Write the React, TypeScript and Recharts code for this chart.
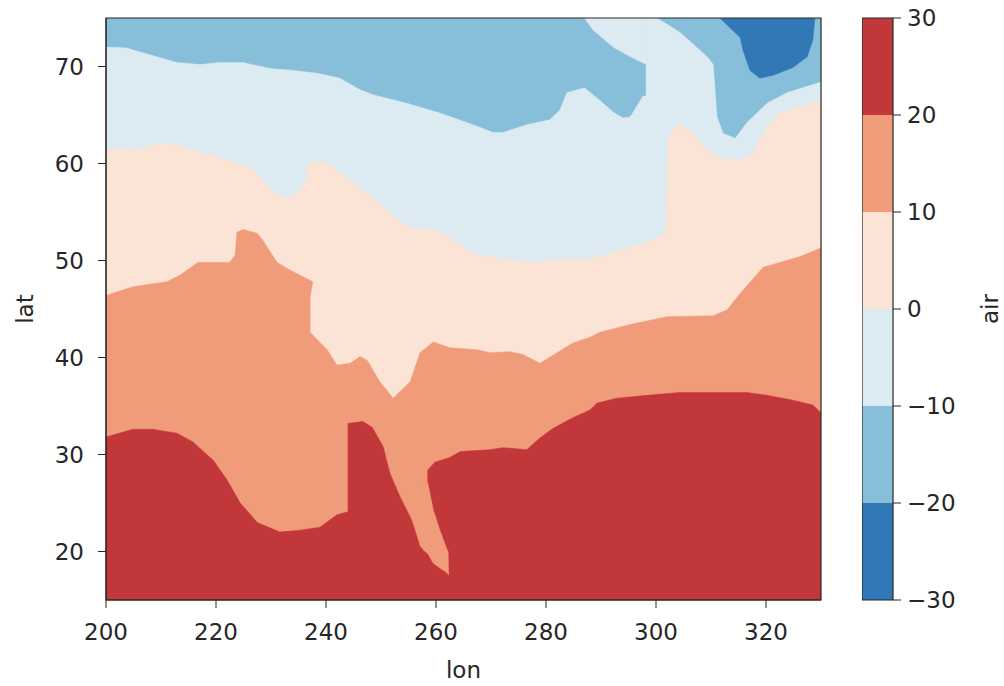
import { ComposedChart, Area, XAxis, YAxis, ReferenceArea } from 'recharts';

const LON_TICKS = [200, 220, 240, 260, 280, 300, 320];
const LAT_TICKS = [20, 30, 40, 50, 60, 70];
const LEVELS = [-30, -20, -10, 0, 10, 20, 30];
const COLORS = ['#3079b6', '#87beda', '#dcebf2', '#fbe3d5', '#f09b7a', '#c1373a'];
const LAT_MIN = 15;
const LAT_MAX = 75;

// contour edges, [lon, lat]
const fullField = [[200, 75], [330, 75]];

const minus10Top = [
  [200, 72.0], [203.8, 71.9], [206.2, 71.5], [211.1, 70.7], [212.9, 70.4], [217.1, 70.2],
  [220.7, 70.4], [224.9, 70.4], [229.8, 69.8], [234.0, 69.6], [238.4, 69.3], [242.5, 68.8],
  [246.2, 67.6], [248.5, 67.1], [254.7, 66.2], [260.7, 65.2], [266.7, 64.0], [270.4, 63.2],
  [272.2, 63.2], [276.5, 64.0], [280.7, 64.5], [282.5, 65.5], [283.8, 67.3], [287.0, 67.8],
  [289.8, 66.5], [292.2, 65.3], [294.0, 64.7], [295.3, 64.8], [297.6, 66.9], [298.2, 67.0],
  [298.2, 75], [300.2, 75], [304.4, 73.5], [309.3, 71.0], [310.4, 70.2], [311.1, 64.8],
  [312.2, 63.1], [314.4, 62.6], [316.5, 64.2], [320.2, 66.2], [323.8, 67.3], [330, 68.4],
];

// light blue wedge touching the top edge, lower edge
const wedgeBottom = [[287.0, 75], [288.5, 73.8], [292.2, 72.0], [294.7, 71.2], [298.2, 70.2]];

// dark blue cell, lower edge
const minus20Bottom = [
  [311.6, 75], [315.3, 73.0], [315.8, 71.7], [317.1, 69.6], [318.9, 68.8], [321.3, 69.1],
  [324.9, 69.9], [327.5, 71.0], [328.5, 72.7], [328.9, 75],
];

const zeroTop = [
  [200, 61.6], [204.9, 61.4], [209.8, 62.1], [213.5, 61.8], [217.1, 61.2], [223.1, 60.2],
  [226.2, 59.6], [228.5, 58.3], [230.4, 57.1], [232.9, 56.4], [235.3, 57.3], [236.5, 58.3],
  [236.7, 60.1], [240.2, 60.1], [244.4, 58.3], [251.1, 55.2], [254.7, 53.5], [260.2, 53.1],
  [262.5, 52.4], [265.6, 51.1], [267.5, 50.6], [272.9, 50.1], [277.6, 49.8], [282.0, 50.1],
  [288.0, 50.1], [289.8, 50.4], [295.3, 51.4], [300.7, 52.4], [301.6, 52.9], [302.0, 56.2],
  [302.2, 62.7], [304.4, 64.2], [306.7, 63.1], [309.3, 61.4], [311.6, 60.6], [314.7, 60.4],
  [317.1, 60.7], [320.2, 63.8], [322.5, 65.2], [325.6, 65.7], [330, 66.5],
];

const tenTop = [
  [200, 46.4], [204.9, 47.3], [211.1, 47.8], [213.5, 48.5], [216.7, 49.8], [222.5, 49.8],
  [223.5, 50.6], [223.8, 52.9], [224.9, 53.2], [227.5, 52.8], [228.5, 52.1], [231.1, 49.8],
  [233.5, 49.0], [237.6, 47.8], [237.1, 46.2], [237.1, 42.6], [240.2, 40.8], [242.0, 39.2],
  [244.4, 39.4], [246.2, 40.1], [247.5, 39.7], [249.8, 37.5], [252.2, 35.8], [255.3, 37.5],
  [257.1, 40.5], [259.5, 41.6], [262.5, 41.0], [267.5, 40.8], [269.8, 40.5], [273.5, 40.6],
  [275.8, 40.3], [278.9, 39.4], [282.0, 40.5], [284.9, 41.5], [288.0, 42.1], [289.8, 42.6],
  [295.3, 43.4], [302.0, 44.2], [310.4, 44.3], [312.9, 44.9], [315.3, 46.6], [319.5, 49.3],
  [322.5, 49.8], [326.2, 50.4], [330, 51.3],
];

const twentyTop = [
  [200, 31.8], [204.9, 32.6], [208.5, 32.6], [212.9, 32.2], [215.8, 31.3], [219.5, 29.4],
  [222.0, 27.4], [224.4, 25.0], [227.5, 23.0], [231.6, 22.0], [235.3, 22.2], [238.9, 22.5],
  [242.0, 23.8], [244.0, 24.1], [244.0, 33.2], [246.7, 33.4], [248.4, 32.8], [250.4, 30.8],
  [251.6, 28.1], [253.5, 25.6], [255.6, 23.2], [257.1, 20.5], [258.5, 19.8], [258.5, 28.4],
  [259.8, 29.2], [262.5, 29.7], [264.4, 30.3], [269.8, 30.5], [272.2, 30.7], [276.5, 30.5],
  [278.9, 31.7], [281.3, 32.7], [284.9, 33.8], [288.0, 34.6], [289.3, 35.3], [292.9, 35.8],
  [298.4, 36.1], [304.4, 36.4], [316.5, 36.4], [320.2, 36.1], [324.9, 35.6], [328.5, 35.1],
  [330, 34.3],
];

// orange tongue cutting into the red, [lon, low, high]
const tongue = [
  [257.6, 20.2, 27.1], [258.5, 19.8, 27.1], [259.5, 18.8, 24.3], [260.7, 18.3, 22.2],
  [262.0, 17.8, 20.2], [262.2, 17.6, 20.0], [262.3, 17.6, 17.6],
];

const fromBottom = (pts: number[][]) => pts.map(([lon, lat]) => ({ lon, v: [LAT_MIN, lat] }));
const toTop = (pts: number[][]) => pts.map(([lon, lat]) => ({ lon, v: [lat, LAT_MAX] }));
const between = (pts: number[][]) => pts.map(([lon, lo, hi]) => ({ lon, v: [lo, hi] }));

const layers = [
  { data: fromBottom(fullField), color: COLORS[1] },
  { data: fromBottom(minus10Top), color: COLORS[2] },
  { data: toTop(wedgeBottom), color: COLORS[2] },
  { data: toTop(minus20Bottom), color: COLORS[0] },
  { data: fromBottom(zeroTop), color: COLORS[3] },
  { data: fromBottom(tenTop), color: COLORS[4] },
  { data: fromBottom(twentyTop), color: COLORS[5] },
  { data: between(tongue), color: COLORS[4] },
];

const cbarData = [0, 1].map((x) => {
  const row: Record<string, any> = { x };
  COLORS.forEach((_, i) => {
    row['b' + i] = [LEVELS[i], LEVELS[i + 1]];
  });
  return row;
});

const INK = '#262626';
const FONT = 'DejaVu Sans';
const tickStyle = { fill: INK, fontSize: 23, fontFamily: FONT };
const fmt = (v: number) => (v < 0 ? `\u2212${-v}` : `${v}`);

export default function App() {
  return (
    <div style={{ position: 'absolute', left: 0, top: 0, width: 1004, height: 686, background: '#fff' }}>
      <div style={{ position: 'absolute', left: 0, top: 0 }}>
        <ComposedChart width={840} height={686} margin={{ top: 18, right: 19, bottom: 0, left: 0 }}>
          <XAxis
            type="number"
            dataKey="lon"
            domain={[200, 330]}
            ticks={LON_TICKS}
            allowDataOverflow
            height={86}
            tick={tickStyle}
            tickSize={8}
            tickMargin={16}
            tickLine={{ stroke: INK }}
            axisLine={{ stroke: INK }}
            label={{ value: 'lon', position: 'insideBottom', offset: 8, fill: INK, fontSize: 23, fontFamily: FONT }}
          />
          <YAxis
            type="number"
            domain={[LAT_MIN, LAT_MAX]}
            ticks={LAT_TICKS}
            allowDataOverflow
            width={106}
            tick={tickStyle}
            tickSize={8}
            tickMargin={14}
            tickLine={{ stroke: INK }}
            axisLine={{ stroke: INK }}
            label={{
              value: 'lat',
              angle: -90,
              position: 'insideLeft',
              offset: 25,
              fill: INK,
              fontSize: 23,
              fontFamily: FONT,
              style: { textAnchor: 'middle' },
            }}
          />
          {layers.map((l, i) => (
            <Area
              key={i}
              data={l.data}
              dataKey="v"
              type="linear"
              fill={l.color}
              fillOpacity={1}
              stroke={l.color}
              strokeWidth={0.5}
              isAnimationActive={false}
              activeDot={false}
              dot={false}
            />
          ))}
          <ReferenceArea x1={200} x2={330} y1={LAT_MIN} y2={LAT_MAX} fill="none" stroke={INK} strokeWidth={1.2} />
        </ComposedChart>
      </div>
      <div style={{ position: 'absolute', left: 862, top: 0 }}>
        <ComposedChart width={142} height={686} data={cbarData} margin={{ top: 18, right: 0, bottom: 86, left: 0 }}>
          <XAxis type="number" dataKey="x" domain={[0, 1]} hide />
          <YAxis
            type="number"
            orientation="right"
            domain={[-30, 30]}
            ticks={LEVELS}
            width={111}
            tick={tickStyle}
            tickFormatter={fmt}
            tickSize={8}
            tickMargin={6}
            tickLine={{ stroke: INK }}
            axisLine={false}
            label={{
              value: 'air',
              angle: -90,
              position: 'insideRight',
              offset: 14,
              fill: INK,
              fontSize: 23,
              fontFamily: FONT,
              style: { textAnchor: 'middle' },
            }}
          />
          {COLORS.map((c, i) => (
            <Area
              key={i}
              dataKey={'b' + i}
              type="linear"
              fill={c}
              fillOpacity={1}
              stroke="none"
              isAnimationActive={false}
              activeDot={false}
              dot={false}
            />
          ))}
          <ReferenceArea x1={0} x2={1} y1={-30} y2={30} fill="none" stroke={INK} strokeWidth={1.2} />
        </ComposedChart>
      </div>
    </div>
  );
}
